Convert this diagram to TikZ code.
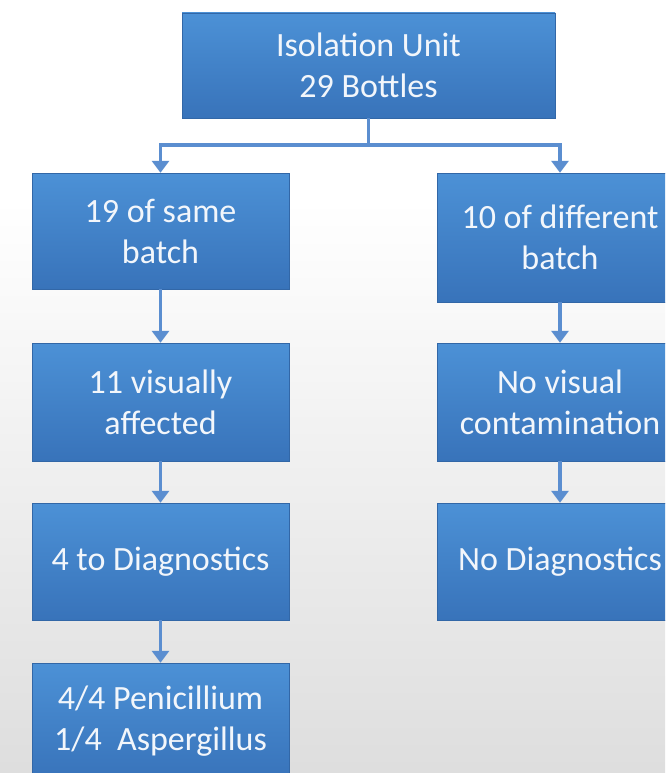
\documentclass[tikz,border=0pt]{standalone}
\usepackage{fontspec}
\setmainfont{Carlito}
\usetikzlibrary{arrows.meta}
\definecolor{boxtop}{HTML}{4C91D6}
\definecolor{boxbot}{HTML}{3873BA}
\definecolor{arrcol}{HTML}{5B8ED0}
\definecolor{txtcol}{HTML}{F2F6FB}
\tikzset{
  flowbox/.style={rectangle, inner sep=0pt, align=center, top color=boxtop, bottom color=boxbot,
    draw=boxbot!90!black, line width=0.4pt, text=txtcol, font=\fontsize{34}{41}\selectfont},
  arr/.style={draw=arrcol, line width=3.5pt, -{Triangle[width=17pt,length=12pt]}},
  conn/.style={draw=arrcol, line width=3.5pt},
}
\begin{document}
\begin{tikzpicture}[x=1pt,y=-1pt]
\useasboundingbox (0,0) rectangle (665,773);
\clip (0,0) rectangle (665,773);
\fill[white] (0,0) rectangle (665,200);
\shade[top color=white, bottom color=black!13] (0,200) rectangle (665,773);
\node[flowbox, minimum width=373pt, minimum height=105pt] (top) at (368.5,65.5) {Isolation Unit\\29 Bottles};
\node[flowbox, minimum width=257pt, minimum height=116pt] (L1) at (160.5,231) {19 of same\\batch};
\node[flowbox, minimum width=257pt, minimum height=118pt] (L2) at (160.5,402) {11 visually\\affected};
\node[flowbox, minimum width=257pt, minimum height=117pt] (L3) at (160.5,561.5) {4 to Diagnostics};
\node[flowbox, minimum width=257pt, minimum height=117pt] (L4) at (160.5,721.5) {4/4 Penicillium\\1/4\ \ Aspergillus};
\node[flowbox, minimum width=246pt, minimum height=129pt] (R1) at (560,237.5) {10 of different\\batch};
\node[flowbox, minimum width=246pt, minimum height=118pt] (R2) at (560,402) {No visual\\contamination};
\node[flowbox, minimum width=246pt, minimum height=117pt] (R3) at (560,561.5) {No Diagnostics};
\coordinate (jn) at (368.5,145);
\draw[conn] (top.south) -- (jn);
\draw[arr] (jn) -| (L1.north);
\draw[arr] (jn) -| (R1.north);
\draw[arr] (L1) -- (L2);
\draw[arr] (L2) -- (L3);
\draw[arr] (L3) -- (L4);
\draw[arr] (R1) -- (R2);
\draw[arr] (R2) -- (R3);
\end{tikzpicture}
\end{document}
